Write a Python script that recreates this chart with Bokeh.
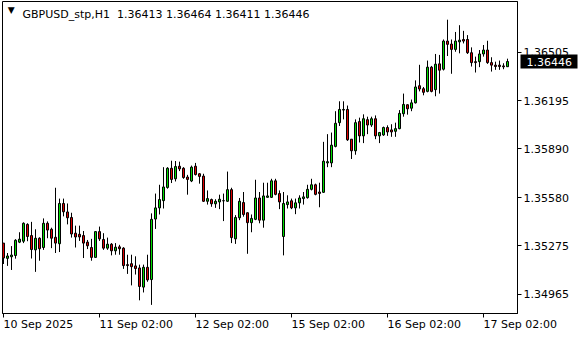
from bokeh.plotting import figure
from bokeh.models import (ColumnDataSource, Range1d, FixedTicker, PrintfTickFormatter,
                          Label, LinearAxis)
from bokeh.embed import file_html
from bokeh.resources import INLINE

symbol = "GBPUSD_stp,H1"

opens = [
    1.35291, 1.35194, 1.35204, 1.35212, 1.35297, 1.35303, 1.35410, 1.35339, 1.35248, 1.35322,
    1.35263, 1.35417, 1.35379, 1.35328, 1.35287, 1.35543, 1.35489, 1.35454, 1.35354, 1.35347,
    1.35339, 1.35297, 1.35263, 1.35200, 1.35364, 1.35314, 1.35259, 1.35284, 1.35242, 1.35267,
    1.35259, 1.35154, 1.35160, 1.35146, 1.35133, 1.35011, 1.35137, 1.35059, 1.35444, 1.35515,
    1.35561, 1.35645, 1.35767, 1.35700, 1.35780, 1.35767, 1.35711, 1.35686, 1.35780, 1.35732,
    1.35717, 1.35557, 1.35568, 1.35541, 1.35553, 1.35561, 1.35557, 1.35631, 1.35318, 1.35452,
    1.35549, 1.35484, 1.35421, 1.35442, 1.35578, 1.35437, 1.35582, 1.35582, 1.35687, 1.35606,
    1.35333, 1.35536, 1.35560, 1.35515, 1.35547, 1.35574, 1.35580, 1.35633, 1.35662, 1.35616,
    1.35614, 1.35801, 1.35801, 1.35906, 1.36057, 1.36137, 1.36141, 1.35952, 1.35878, 1.36064,
    1.35973, 1.36076, 1.36042, 1.36082, 1.35973, 1.35979, 1.36026, 1.36011, 1.36002, 1.36019,
    1.36114, 1.36171, 1.36149, 1.36183, 1.36292, 1.36273, 1.36256, 1.36410, 1.36267, 1.36431,
    1.36397, 1.36576, 1.36557, 1.36523, 1.36571, 1.36586, 1.36586, 1.36502, 1.36445, 1.36445,
    1.36494, 1.36519, 1.36439, 1.36423, 1.36423, 1.36418, 1.36413,
]

highs = [
    1.35291, 1.35228, 1.35272, 1.35316, 1.35360, 1.35423, 1.35417, 1.35426, 1.35379, 1.35328,
    1.35448, 1.35429, 1.35389, 1.35643, 1.35574, 1.35574, 1.35543, 1.35484, 1.35402, 1.35402,
    1.35368, 1.35311, 1.35318, 1.35366, 1.35396, 1.35354, 1.35326, 1.35291, 1.35291, 1.35280,
    1.35265, 1.35217, 1.35217, 1.35207, 1.35154, 1.35154, 1.35217, 1.35480, 1.35606, 1.35662,
    1.35774, 1.35774, 1.35815, 1.35813, 1.35809, 1.35774, 1.35725, 1.35784, 1.35801, 1.35736,
    1.35732, 1.35626, 1.35574, 1.35570, 1.35599, 1.35606, 1.35746, 1.35643, 1.35469, 1.35578,
    1.35616, 1.35486, 1.35473, 1.35694, 1.35616, 1.35675, 1.35675, 1.35700, 1.35700, 1.35626,
    1.35616, 1.35595, 1.35574, 1.35574, 1.35595, 1.35616, 1.35662, 1.35700, 1.35669, 1.35675,
    1.35935, 1.35984, 1.35994, 1.36130, 1.36193, 1.36193, 1.36166, 1.35952, 1.36078, 1.36089,
    1.36110, 1.36095, 1.36095, 1.36103, 1.35998, 1.36032, 1.36040, 1.36047, 1.36057, 1.36137,
    1.36242, 1.36173, 1.36204, 1.36326, 1.36425, 1.36284, 1.36452, 1.36418, 1.36494, 1.36488,
    1.36586, 1.36712, 1.36586, 1.36634, 1.36677, 1.36641, 1.36614, 1.36536, 1.36477, 1.36519,
    1.36551, 1.36578, 1.36473, 1.36445, 1.36452, 1.36435, 1.36464,
]

lows = [
    1.35158, 1.35146, 1.35120, 1.35192, 1.35291, 1.35291, 1.35303, 1.35193, 1.35108, 1.35179,
    1.35248, 1.35322, 1.35259, 1.35228, 1.35234, 1.35461, 1.35410, 1.35326, 1.35263, 1.35305,
    1.35196, 1.35253, 1.35179, 1.35199, 1.35305, 1.35248, 1.35248, 1.35213, 1.35217, 1.35217,
    1.35127, 1.35095, 1.35022, 1.35091, 1.34927, 1.34977, 1.35045, 1.34898, 1.35381, 1.35473,
    1.35511, 1.35637, 1.35673, 1.35683, 1.35749, 1.35700, 1.35599, 1.35679, 1.35721, 1.35669,
    1.35553, 1.35536, 1.35522, 1.35515, 1.35507, 1.35431, 1.35553, 1.35291, 1.35286, 1.35437,
    1.35459, 1.35223, 1.35360, 1.35437, 1.35417, 1.35389, 1.35582, 1.35578, 1.35595, 1.35507,
    1.35213, 1.35511, 1.35507, 1.35475, 1.35511, 1.35536, 1.35574, 1.35626, 1.35595, 1.35519,
    1.35610, 1.35774, 1.35774, 1.35900, 1.36036, 1.36078, 1.35941, 1.35826, 1.35853, 1.35931,
    1.35927, 1.35984, 1.36030, 1.35952, 1.35927, 1.35973, 1.35973, 1.35967, 1.35967, 1.36015,
    1.36095, 1.36108, 1.36130, 1.36179, 1.36256, 1.36231, 1.36250, 1.36250, 1.36225, 1.36242,
    1.36389, 1.36481, 1.36368, 1.36508, 1.36498, 1.36561, 1.36494, 1.36414, 1.36376, 1.36410,
    1.36477, 1.36431, 1.36382, 1.36393, 1.36393, 1.36397, 1.36411,
]

closes = [
    1.35196, 1.35209, 1.35215, 1.35309, 1.35316, 1.35417, 1.35333, 1.35250, 1.35322, 1.35255,
    1.35417, 1.35374, 1.35322, 1.35291, 1.35543, 1.35490, 1.35452, 1.35349, 1.35330, 1.35330,
    1.35291, 1.35274, 1.35200, 1.35364, 1.35318, 1.35259, 1.35284, 1.35242, 1.35265, 1.35255,
    1.35148, 1.35148, 1.35141, 1.35129, 1.35015, 1.35137, 1.35057, 1.35442, 1.35515, 1.35568,
    1.35648, 1.35767, 1.35696, 1.35778, 1.35763, 1.35708, 1.35696, 1.35774, 1.35727, 1.35715,
    1.35557, 1.35574, 1.35541, 1.35557, 1.35570, 1.35560, 1.35631, 1.35326, 1.35454, 1.35557,
    1.35473, 1.35421, 1.35448, 1.35578, 1.35437, 1.35591, 1.35591, 1.35687, 1.35601, 1.35553,
    1.35543, 1.35553, 1.35515, 1.35547, 1.35578, 1.35585, 1.35633, 1.35662, 1.35601, 1.35607,
    1.35812, 1.35809, 1.35914, 1.36053, 1.36141, 1.36141, 1.35948, 1.35878, 1.36057, 1.35973,
    1.36082, 1.36042, 1.36082, 1.35973, 1.35994, 1.36026, 1.35998, 1.35998, 1.36019, 1.36116,
    1.36173, 1.36145, 1.36183, 1.36284, 1.36271, 1.36250, 1.36410, 1.36256, 1.36429, 1.36391,
    1.36576, 1.36555, 1.36523, 1.36576, 1.36582, 1.36576, 1.36502, 1.36439, 1.36439, 1.36494,
    1.36519, 1.36439, 1.36423, 1.36414, 1.36414, 1.36412, 1.36446,
]

time_tick_bars = [0, 24, 48, 72, 96, 120]
time_tick_labels = ["10 Sep 2025", "11 Sep 02:00", "12 Sep 02:00",
                    "15 Sep 02:00", "16 Sep 02:00", "17 Sep 02:00"]
price_ticks = [1.34965, 1.35275, 1.35580, 1.35890, 1.36195, 1.36505]

UP = "#00dd00"
DOWN = "#dd0000"
FONT = "DejaVu Sans"

idx = list(range(len(opens)))
src = ColumnDataSource(dict(
    x=idx, o=opens, h=highs, l=lows, c=closes,
    top=[max(o, c) for o, c in zip(opens, closes)],
    bottom=[min(o, c) for o, c in zip(opens, closes)],
    color=[UP if c > o else DOWN for o, c in zip(opens, closes)],
))

X_START, X_END = -0.25, 128.5
p = figure(width=580, height=340, output_backend="svg", toolbar_location=None, tools="",
           x_range=Range1d(X_START, X_END), y_range=Range1d(1.348432, 1.368277),
           y_axis_location="right",
           min_border_left=2, min_border_right=63, min_border_top=1, min_border_bottom=24)
p.background_fill_color = "white"
p.border_fill_color = "white"
p.grid.visible = False
p.outline_line_color = "black"
p.outline_line_width = 1

p.segment(x0="x", y0="l", x1="x", y1="h", line_color="black", line_width=1, source=src)
p.vbar(x="x", width=0.5, top="top", bottom="bottom", fill_color="color",
       line_color="black", line_width=1, source=src)

# time axis: labels start at their tick (left aligned via a tiny negative orientation)
xa = p.xaxis[0]
xa.ticker = FixedTicker(ticks=time_tick_bars)
xa.major_label_overrides = dict(zip(time_tick_bars, time_tick_labels))
xa.major_label_orientation = -1e-4
xa.major_tick_out = 4
xa.major_tick_in = 0
xa.minor_tick_out = 0
xa.minor_tick_in = 0
xa.major_label_standoff = 7
xa.major_label_text_font = FONT
xa.major_label_text_font_size = "11px"
xa.major_label_text_color = "black"
xa.axis_line_color = "black"
xa.major_tick_line_color = "black"

# price axis
ya = p.yaxis[0]
ya.ticker = FixedTicker(ticks=price_ticks)
ya.formatter = PrintfTickFormatter(format="%.5f")
ya.major_tick_out = 4
ya.major_tick_in = 0
ya.minor_tick_out = 0
ya.minor_tick_in = 0
ya.major_label_standoff = 2
ya.major_label_text_font = FONT
ya.major_label_text_font_size = "11px"
ya.major_label_text_color = "black"
ya.axis_line_color = "black"

# current price marker: outer axis whose (thick) tick reaches back to the frame edge
cur = LinearAxis(ticker=FixedTicker(ticks=[closes[-1]]),
                 formatter=PrintfTickFormatter(format="%.5f"))
cur.axis_line_color = None
cur.minor_tick_line_color = None
cur.major_tick_in = 51
cur.major_tick_out = 6
cur.major_tick_line_width = 14
cur.major_tick_line_color = "black"
cur.major_label_standoff = -51
cur.major_label_text_font = FONT
cur.major_label_text_font_size = "11px"
cur.major_label_text_color = "white"
p.add_layout(cur, "right")

header = f"{symbol}\u00a0\u00a0{opens[-1]:.5f} {highs[-1]:.5f} {lows[-1]:.5f} {closes[-1]:.5f}"
p.add_layout(Label(x=20, y=299, x_units="screen", y_units="screen", text=header,
                   text_align="left", text_baseline="alphabetic",
                   text_font=FONT, text_font_size="11px", text_color="black"))
p.add_layout(Label(x=8.8, y=304, x_units="screen", y_units="screen", text="\u25bc",
                   text_align="center", text_baseline="middle",
                   text_font=FONT, text_font_size="9px", text_color="black"))

open("out.html", "w").write(file_html(p, INLINE))
